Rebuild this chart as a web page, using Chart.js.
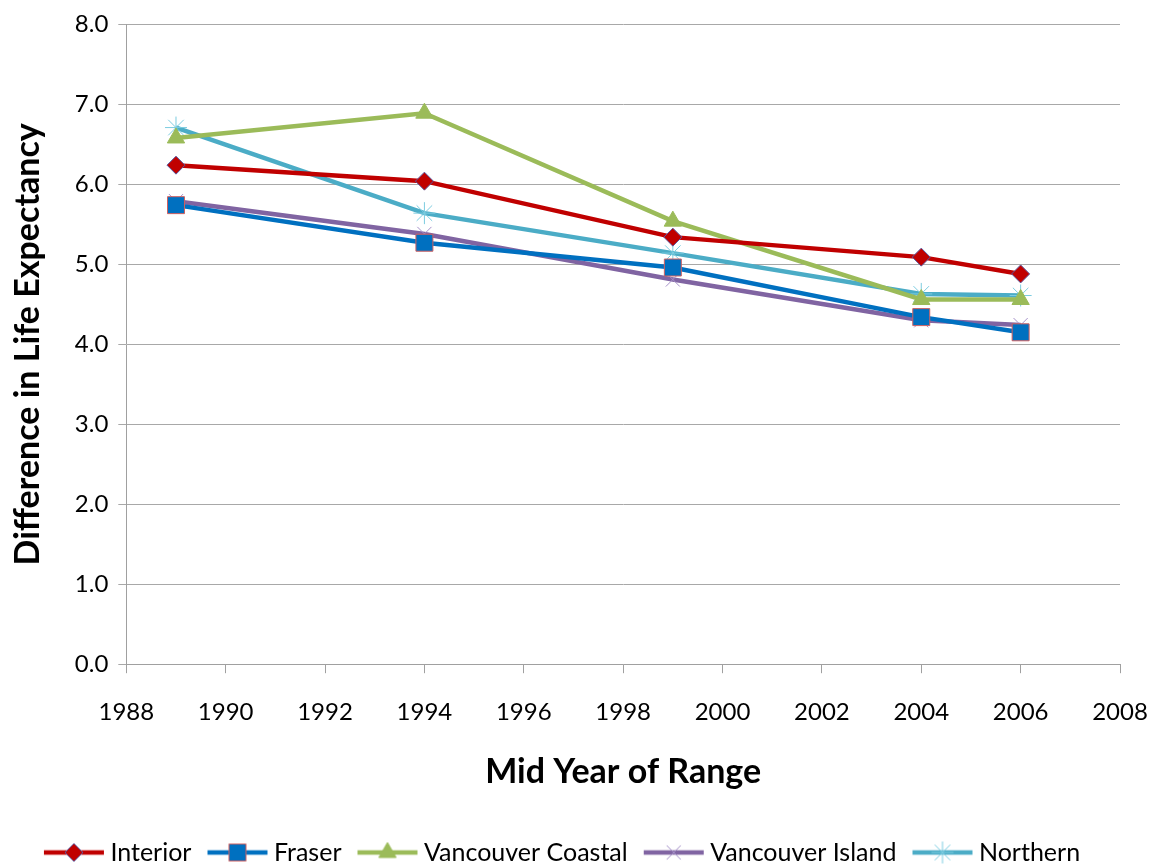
<!DOCTYPE html>
<html><head><meta charset="utf-8">
<script src="https://cdn.jsdelivr.net/npm/chart.js@4/dist/chart.umd.min.js"></script>
<style>html,body{margin:0;padding:0;background:#fff}</style>
</head><body>
<canvas id="c" width="1155" height="865"></canvas>
<script>
const years = [1989, 1994, 1999, 2004, 2006];
const interior = [6.24, 6.04, 5.34, 5.09, 4.88];
const fraser = [5.74, 5.27, 4.96, 4.34, 4.15];
const vancouverCoastal = [6.58, 6.89, 5.54, 4.56, 4.56];
const vancouverIsland = [5.79, 5.38, 4.81, 4.30, 4.24];
const northern = [6.71, 5.64, 5.14, 4.63, 4.61];
const seriesNames = ['Interior', 'Fraser', 'Vancouver Coastal', 'Vancouver Island', 'Northern'];
const xTicks = [1988, 1990, 1992, 1994, 1996, 1998, 2000, 2002, 2004, 2006, 2008];
const yTicks = [0, 1, 2, 3, 4, 5, 6, 7, 8];

const FONT = 'Lato, "Liberation Sans", sans-serif';
const styles = [
  {color:'#C00000', point:'rectRot', border:'#5A5AA0', r:9, bw:1},
  {color:'#0070C0', point:'rect', border:'#D06060', r:12, bw:1},
  {color:'#9BBB59', point:'triangle', border:'#9BBB59', r:10, bw:1},
  {color:'#8064A2', point:'crossRot', border:'#A590C8', r:10, bw:1},
  {color:'#4BACC6', point:'star', border:'#7CCCE0', r:11, bw:1}
];
const allData = [interior, fraser, vancouverCoastal, vancouverIsland, northern];

const ICON_W = 90, BOX_W = 50;
function legendIcon(st){
  const cv = document.createElement('canvas');
  cv.width = ICON_W; cv.height = 26;
  const ctx = cv.getContext('2d');
  const x0 = (ICON_W - BOX_W) / 2 - 4, x1 = x0 + 60;
  ctx.strokeStyle = st.color; ctx.lineWidth = 4.5; ctx.lineCap='butt';
  ctx.beginPath(); ctx.moveTo(x0,13); ctx.lineTo(x1,13); ctx.stroke();
  ctx.fillStyle = st.color; ctx.strokeStyle = st.border; ctx.lineWidth = st.bw;
  Chart.helpers.drawPoint(ctx, {pointStyle: st.point, radius: st.r, rotation:0, borderWidth: st.bw}, (x0+x1)/2, 13);
  return cv;
}

const datasets = allData.map((d, i) => ({
  label: seriesNames[i],
  data: years.map((y, j) => ({x: y, y: d[j]})),
  borderColor: styles[i].color,
  backgroundColor: styles[i].color,
  pointBorderColor: styles[i].border,
  pointBackgroundColor: styles[i].color,
  pointStyle: styles[i].point,
  pointRadius: styles[i].r,
  pointBorderWidth: styles[i].bw,
  borderWidth: 4.5,
  tension: 0
}));

new Chart(document.getElementById('c'), {
  type: 'line',
  data: {datasets},
  options: {
    responsive: false,
    animation: false,
    layout: {padding: {left: 8, right: 35, top: 3, bottom: -10}},
    plugins: {
      legend: {
        position: 'bottom',
        labels: {
          usePointStyle: true,
          pointStyleWidth: BOX_W,
          boxHeight: 22,
          font: {family: FONT, size: 25},
          color: '#000',
          padding: 20,
          generateLabels: (chart) => chart.data.datasets.map((ds, i) => ({
            text: ds.label,
            pointStyle: legendIcon(styles[i]),
            fillStyle: ds.borderColor,
            strokeStyle: ds.borderColor,
            lineWidth: 0,
            datasetIndex: i,
            hidden: false,
            fontColor: '#000'
          }))
        }
      },
      tooltip: {enabled: false}
    },
    scales: {
      x: {
        type: 'linear', min: 1988, max: 2008,
        afterBuildTicks: (s) => { s.ticks = xTicks.map(v => ({value: v})); },
        ticks: {font: {family: FONT, size: 24, lineHeight: 1.0}, color: '#000', callback: v => ['', String(v)], padding: 3, maxRotation: 0},
        grid: {display: true, drawOnChartArea: false, drawTicks: true, tickLength: 9, color: '#A0A0A0'},
        border: {display: true, color: '#A0A0A0', width: 1},
        title: {display: true, text: 'Mid Year of Range', font: {family: FONT, size: 34, weight: 'bold'}, color: '#000', padding: {top: 24, bottom: 28}}
      },
      y: {
        type: 'linear', min: 0, max: 8,
        afterBuildTicks: (s) => { s.ticks = yTicks.map(v => ({value: v})); },
        ticks: {font: {family: FONT, size: 24}, color: '#000', callback: v => Number(v).toFixed(1), padding: 10},
        grid: {color: '#A8A8A8', lineWidth: 1, tickLength: 8, drawTicks: true},
        border: {display: true, color: '#A0A0A0', width: 1},
        title: {display: true, text: 'Difference in Life Expectancy', font: {family: FONT, size: 34, weight: 'bold'}, color: '#000', padding: {top: 0, bottom: 16}}
      }
    }
  }
});
</script>
</body></html>
